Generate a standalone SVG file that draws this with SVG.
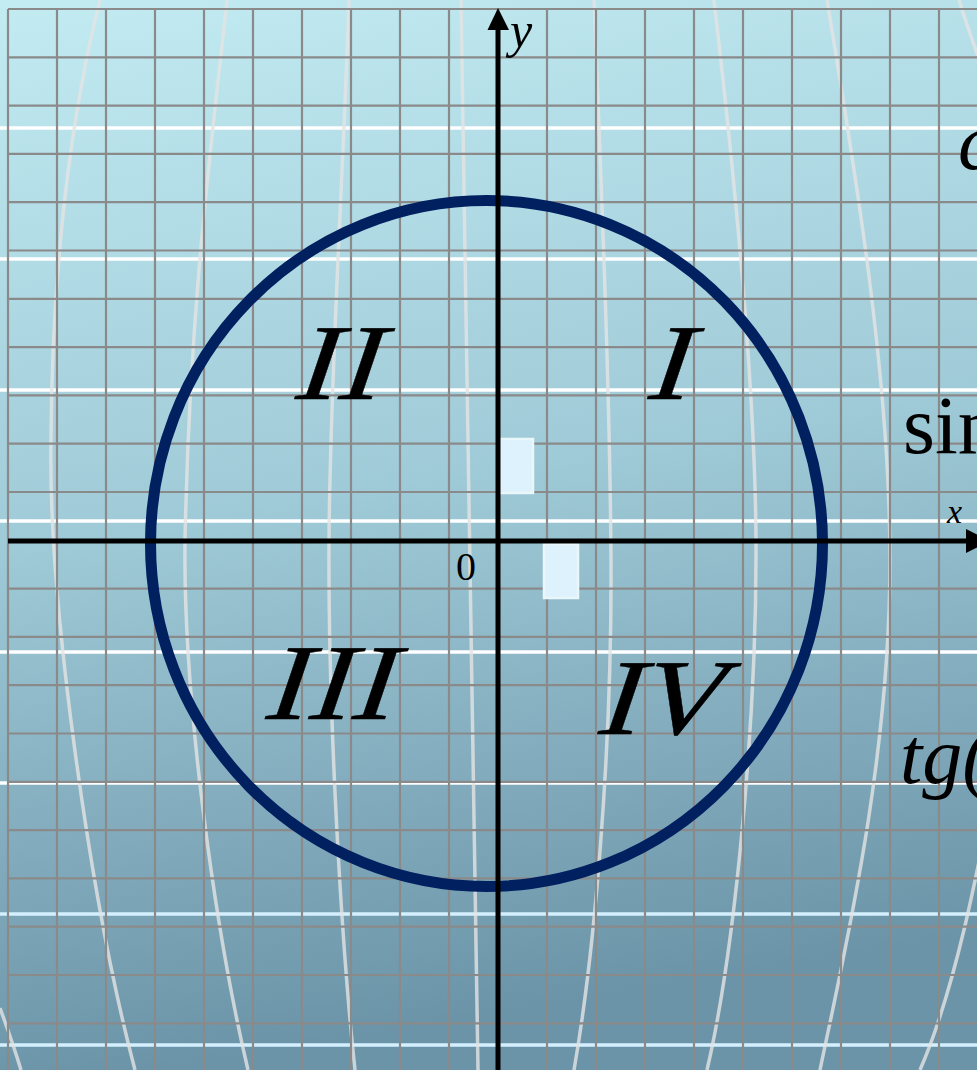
<svg xmlns="http://www.w3.org/2000/svg" width="977" height="1070" viewBox="0 0 977 1070">
<defs>
<linearGradient id="bg" x1="0" y1="0" x2="0.15" y2="1">
<stop offset="0" stop-color="#c2ebf2"/>
<stop offset="0.5" stop-color="#9fcad7"/>
<stop offset="1" stop-color="#6b94a8"/>
</linearGradient>
<style>
.wl{stroke:#ffffff;stroke-width:3.5}
.wb{stroke:#d4f0ff;stroke-width:3.5}
.cv{fill:none;stroke:#e4e4e4;stroke-opacity:0.8;stroke-width:3.5}
.grid{fill:none;stroke:#8a8a8a;stroke-width:2.2}
.box{fill:#ddf2fc;stroke:#e9f6fa;stroke-width:2.5}
.ax{stroke:#000;stroke-width:5}
.rn{font-family:"Liberation Serif",serif;font-style:italic;font-size:108px;fill:#000;stroke:#000;stroke-width:0.4;text-anchor:middle}
.it{font-family:"Liberation Serif",serif;font-style:italic;fill:#000}
.rm{font-family:"Liberation Serif",serif;fill:#000}
</style>
</defs>
<rect x="0" y="0" width="977" height="1070" fill="url(#bg)"/>
<g id="stripes">
<line class="wl" x1="0" y1="128" x2="977" y2="128"/>
<line class="wl" x1="0" y1="259" x2="977" y2="259"/>
<line class="wl" x1="0" y1="390" x2="977" y2="390"/>
<line class="wl" x1="0" y1="521" x2="977" y2="521"/>
<line class="wl" x1="0" y1="652" x2="977" y2="652"/>
<line class="wl" x1="0" y1="783" x2="977" y2="783"/>
<line class="wb" x1="0" y1="914" x2="977" y2="914"/>
<line class="wb" x1="0" y1="1045" x2="977" y2="1045"/>
</g>
<g id="curves">
<path class="cv" d="M100,0 C72,110 52,260 51,440 C48,600 90,900 135,1070"/>
<path class="cv" d="M227,0 C212,140 190,300 185,540 C183,700 215,930 248,1070"/>
<path class="cv" d="M349,0 C343,180 330,380 329,540 C328,720 342,950 355,1070"/>
<path class="cv" d="M461,0 C465,350 470,700 478,1070"/>
<path class="cv" d="M594,0 C602,200 610,400 611,560 C612,750 595,950 574,1070"/>
<path class="cv" d="M714,0 C735,180 755,380 756,540 C757,720 735,950 707,1070"/>
<path class="cv" d="M827,0 C855,170 890,380 890,560 C890,760 845,950 820,1070"/>
<path class="cv" d="M959,0 C968,30 980,60 1000,120"/>
<path class="cv" d="M995,780 C978,870 955,990 920,1070"/>
<path class="cv" d="M0,1008 C8,1030 15,1050 21,1070"/>
</g>
<g id="grid">
<path class="grid" d="M8,9V1070 M57,9V1070 M106,9V1070 M155,9V1070 M204,9V1070 M253,9V1070 M302,9V1070 M351,9V1070 M400,9V1070 M449,9V1070 M498,9V1070 M547,9V1070 M596,9V1070 M645,9V1070 M694,9V1070 M743,9V1070 M792,9V1070 M841,9V1070 M890,9V1070 M939,9V1070
M8,9H977 M8,57.3H977 M8,105.6H977 M8,153.9H977 M8,202.2H977 M8,250.5H977 M8,298.8H977 M8,347.1H977 M8,395.4H977 M8,443.7H977 M8,492H977 M8,540.3H977 M8,588.6H977 M8,636.9H977 M8,685.2H977 M8,733.5H977 M8,781.8H977 M8,830.1H977 M8,878.4H977 M8,926.7H977 M8,975H977 M8,1023.3H977"/>
</g>
<g id="markers">
<rect class="box" x="499" y="439" width="34" height="54"/>
<rect class="box" x="544" y="544" width="34" height="54"/>
</g>
<g id="unit-circle">
<ellipse cx="486.5" cy="543.5" rx="336" ry="343" fill="none" stroke="#002060" stroke-width="11"/>
</g>
<g id="connectors">
<line class="ax" x1="8" y1="541" x2="968" y2="541"/>
<polygon points="966,529 966,553 990,541" fill="#000"/>
<line class="ax" x1="498" y1="1070" x2="498" y2="28"/>
<polygon points="487.5,30 509,30 498,8" fill="#000"/>
</g>
<g id="axis-labels">
<text class="it" x="510" y="47" font-size="50">y</text>
<text class="it" x="947" y="523" font-size="34">x</text>
<text class="rm" x="466" y="580" font-size="40" text-anchor="middle">0</text>
</g>
<g id="quadrants">
<text class="rn" transform="translate(338,399) scale(1.2,1) skewX(-6)">II</text>
<text class="rn" transform="translate(669,399) scale(1.2,1) skewX(-6)">I</text>
<text class="rn" transform="translate(330,719) scale(1.2,1) skewX(-6)">III</text>
<text class="rn" transform="translate(659,734) scale(1.2,1) skewX(-6)">IV</text>
</g>
<g id="side-labels">
<text class="it" x="958" y="169" font-size="80">c</text>
<text class="rm" x="903" y="453" font-size="82">sin</text>
<text class="it" x="900" y="783" font-size="80">tg(</text>
</g>
</svg>
